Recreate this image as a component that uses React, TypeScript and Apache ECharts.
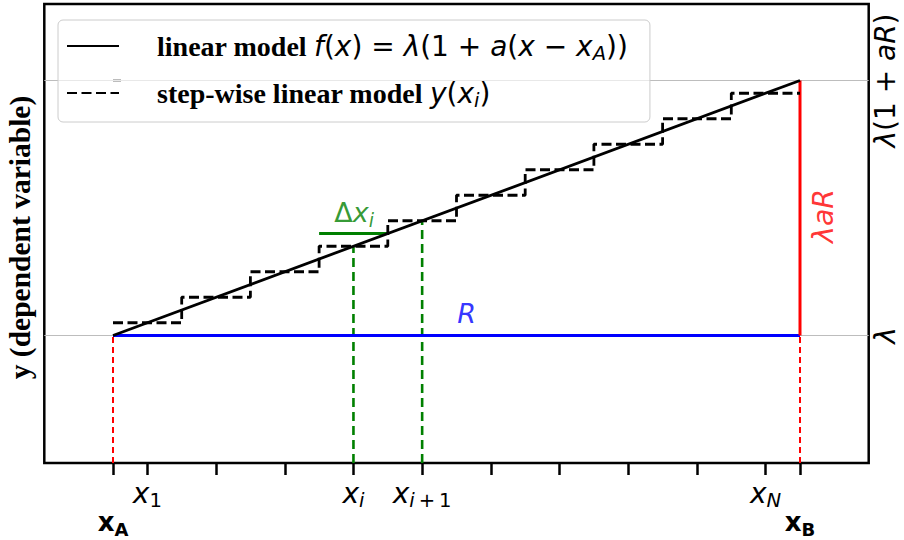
import React, { useEffect, useRef } from "react";
import * as echarts from "echarts";

// ---------- data ----------
const X_MIN = -1;
const X_MAX = 11;
const Y_MIN = 0.5;
const Y_MAX = 2.3;

const gridLevels = [1, 2]; // λ and λ(1+aR)
const linearX = [0, 10];
const linearY = [1, 2];
const stepEdges = [0, 1, 2, 3, 4, 5, 6, 7, 8, 9, 10];
const stepLevels = [1.05, 1.15, 1.25, 1.35, 1.45, 1.55, 1.65, 1.75, 1.85, 1.95];
const rangeRX = [0, 10];
const rangeRY = 1;
const aRX = 10;
const aRY = [1, 2];
const redDashX = [0, 10];
const redDashY = [0.5, 1];
const markerX = [3.5, 4.5];
const markerTopY = [1.35, 1.45];
const deltaX = [3, 4];
const deltaY = 1.4;

const xTickValues = [0, 0.5, 1.5, 2.5, 3.5, 4.5, 5.5, 6.5, 7.5, 8.5, 9.5, 10];
const xLabelValues = [0.5, 3.5, 4.5, 9.5];
const xLabelTexts = ["{m|x}{su|1}", "{m|x}{s|i}", "{m|x}{s|i}{su|\u2009+\u20091}", "{m|x}{s|N}"];
const xBoldValues = [0, 10];
const xBoldTexts = ["{b|x}{bs|A}", "{b|x}{bs|B}"];
const yLabelValues = [1, 2];
const yLabelTexts = ["{m|λ}", "{m|λ}{u|(1 + }{m|aR}{u|)}"];

const legendNames = ["linear", "step"];
const legendTexts = [
  "{sp|}{t|linear model }{m|f}{u|(}{m|x}{u|) = }{m|λ}{u|(1 + }{m|a}{u|(}{m|x}{u| − }{m|x}{s|A}{u|))}",
  "{sp|}{t|step-wise linear model }{m|y}{u|(}{m|x}{s|i}{u|)}",
];

const annotations = [
  { x: 3.51, y: 1.482, text: "{gu|Δ}{g|x}{gs|i}", rotate: 0 },
  { x: 5.148, y: 1.085, text: "{bl|R}", rotate: 0 },
  { x: 10.34, y: 1.469, text: "{rd|λaR}", rotate: 90 },
];

// ---------- styles ----------
const SANS = "DejaVu Sans";
const SERIF = "Liberation Serif, DejaVu Serif, serif";

const mathRich: any = {
  m: { fontFamily: SANS, fontStyle: "italic", fontSize: 28, lineHeight: 34, color: "#000" },
  u: { fontFamily: SANS, fontSize: 28, lineHeight: 34, color: "#000" },
  s: { fontFamily: SANS, fontStyle: "italic", fontSize: 19.6, lineHeight: 20, padding: [14, 0, 0, 0], color: "#000" },
  su: { fontFamily: SANS, fontSize: 19.6, lineHeight: 20, padding: [14, 0, 0, 0], color: "#000" },
  b: { fontFamily: SANS, fontWeight: "bold", fontSize: 26, lineHeight: 34, color: "#000" },
  bs: { fontFamily: SANS, fontWeight: "bold", fontSize: 18, lineHeight: 20, padding: [14, 0, 0, 0], color: "#000" },
  t: { fontFamily: SERIF, fontWeight: "bold", fontSize: 28, lineHeight: 34, color: "#000" },
  sp: { width: 33, height: 10 },
};

const annRich: any = {
  g: { fontFamily: SANS, fontStyle: "italic", fontSize: 27, lineHeight: 32, color: "#008000" },
  gu: { fontFamily: SANS, fontSize: 27, lineHeight: 32, color: "#008000" },
  gs: { fontFamily: SANS, fontStyle: "italic", fontSize: 19, lineHeight: 18, padding: [14, 0, 0, 0], color: "#008000" },
  bl: { fontFamily: SANS, fontStyle: "italic", fontSize: 27, lineHeight: 32, color: "#0000ff" },
  rd: { fontFamily: SANS, fontStyle: "italic", fontSize: 28.5, lineHeight: 32, color: "#ff0000" },
};

function seg(name: string, data: any[], color: string, width: number, type: any, z: number) {
  return {
    type: "line",
    name,
    data,
    showSymbol: false,
    symbol: "none",
    silent: true,
    clip: false,
    z,
    lineStyle: { color, width, type, cap: "butt" },
    itemStyle: { color },
  };
}

export default function App() {
  const ref = useRef<HTMLDivElement>(null);

  useEffect(() => {
    if (!ref.current) return;
    const chart = echarts.init(ref.current, null, { renderer: "svg" });

    const series: any[] = [];
    gridLevels.forEach((lv, i) =>
      series.push(seg("grid" + i, [[X_MIN, lv], [X_MAX, lv]], "#bdbdbd", 1, "solid", 1))
    );
    redDashX.forEach((x, i) =>
      series.push(seg("reddash" + i, [[x, redDashY[0]], [x, redDashY[1]]], "#ff0000", 2, [6, 4], 2))
    );
    markerX.forEach((x, i) =>
      series.push(seg("green" + i, [[x, Y_MIN], [x, markerTopY[i]]], "#008000", 2.6, [9, 5], 2))
    );
    series.push(seg("delta", [[deltaX[0], deltaY], [deltaX[1], deltaY]], "#008000", 2.8, "solid", 3));
    series.push(seg("R", [[rangeRX[0], rangeRY], [rangeRX[1], rangeRY]], "#0000ff", 3, "solid", 3));
    series.push(seg("aR", [[aRX, aRY[0]], [aRX, aRY[1]]], "#ff0000", 3, "solid", 3));

    const stepSeries: any = seg(
      "step",
      stepEdges.map((x, i) => [x, stepLevels[Math.min(i, stepLevels.length - 1)]]),
      "#000000",
      2.8,
      [10, 4.5],
      4
    );
    stepSeries.step = "end";
    series.push(stepSeries);
    series.push(seg("linear", linearX.map((x, i) => [x, linearY[i]]), "#000000", 2.8, "solid", 5));

    series.push({
      type: "scatter",
      name: "annotations",
      symbol: "circle",
      symbolSize: 1,
      silent: true,
      z: 6,
      itemStyle: { color: "rgba(0,0,0,0)" },
      label: { show: true, position: "inside", rich: annRich },
      data: annotations.map((a) => ({
        value: [a.x, a.y],
        label: { formatter: a.text, rotate: a.rotate },
      })),
    });

    const option: any = {
      animation: false,
      backgroundColor: "#ffffff",
      grid: {
        left: 44.3,
        right: 35.3,
        top: 4,
        bottom: 77,
        show: true,
        borderColor: "#000000",
        borderWidth: 2.5,
        backgroundColor: "rgba(0,0,0,0)",
        containLabel: false,
        outerBoundsMode: "none",
      },
      legend: {
        left: 58,
        top: 20,
        orient: "vertical",
        itemWidth: 52,
        itemHeight: 14,
        itemGap: 13,
        padding: [9, 22, 12, 8],
        backgroundColor: "rgba(255,255,255,0.65)",
        borderColor: "#cccccc",
        borderWidth: 1,
        borderRadius: 5,
        selectedMode: false,
        data: legendNames,
        itemStyle: { color: "rgba(0,0,0,0)", borderWidth: 0, borderColor: "rgba(0,0,0,0)", opacity: 0 },
        formatter: (name: string) => legendTexts[legendNames.indexOf(name)],
        textStyle: { color: "#000", rich: mathRich },
      },
      xAxis: [
        {
          type: "value",
          min: X_MIN,
          max: X_MAX,
          position: "bottom",
          axisLine: { show: false },
          splitLine: { show: false },
          axisTick: {
            show: true,
            customValues: xTickValues,
            length: 12,
            inside: false,
            lineStyle: { color: "#000", width: 2.5 },
          },
          axisLabel: {
            show: true,
            customValues: xLabelValues,
            margin: 13,
            formatter: (v: number) => {
              const i = xLabelValues.indexOf(v);
              return i < 0 ? "" : xLabelTexts[i];
            },
            rich: mathRich,
          },
        },
        {
          type: "value",
          min: X_MIN,
          max: X_MAX,
          position: "bottom",
          axisLine: { show: false },
          splitLine: { show: false },
          axisTick: { show: false },
          axisLabel: {
            show: true,
            customValues: xBoldValues,
            margin: 42,
            formatter: (v: number) => {
              const i = xBoldValues.indexOf(v);
              return i < 0 ? "" : xBoldTexts[i];
            },
            rich: mathRich,
          },
        },
      ],
      yAxis: [
        {
          type: "value",
          min: Y_MIN,
          max: Y_MAX,
          position: "left",
          name: "y (dependent variable)",
          nameLocation: "middle",
          nameGap: 9,
          nameTextStyle: {
            fontFamily: SERIF,
            fontWeight: "bold",
            fontSize: 29.5,
            color: "#000",
            padding: [0, 8, 0, 0],
          },
          axisLine: { show: false },
          splitLine: { show: false },
          axisTick: {
            show: true,
            customValues: yLabelValues,
            inside: true,
            length: 8,
            lineStyle: { color: "#000", width: 2.5 },
          },
          axisLabel: { show: false },
        },
        {
          type: "value",
          min: Y_MIN,
          max: Y_MAX,
          position: "right",
          axisLine: { show: false },
          splitLine: { show: false },
          axisTick: { show: false },
          axisLabel: {
            show: true,
            customValues: yLabelValues,
            rotate: 90,
            margin: 0,
            formatter: (v: number) => {
              const i = yLabelValues.indexOf(v);
              return i < 0 ? "" : yLabelTexts[i];
            },
            rich: mathRich,
          },
        },
      ],
      series,
    };

    chart.setOption(option);
    return () => chart.dispose();
  }, []);

  return (
    <div
      ref={ref}
      style={{ position: "fixed", left: 0, top: 0, width: 904, height: 540, background: "#fff" }}
    />
  );
}
